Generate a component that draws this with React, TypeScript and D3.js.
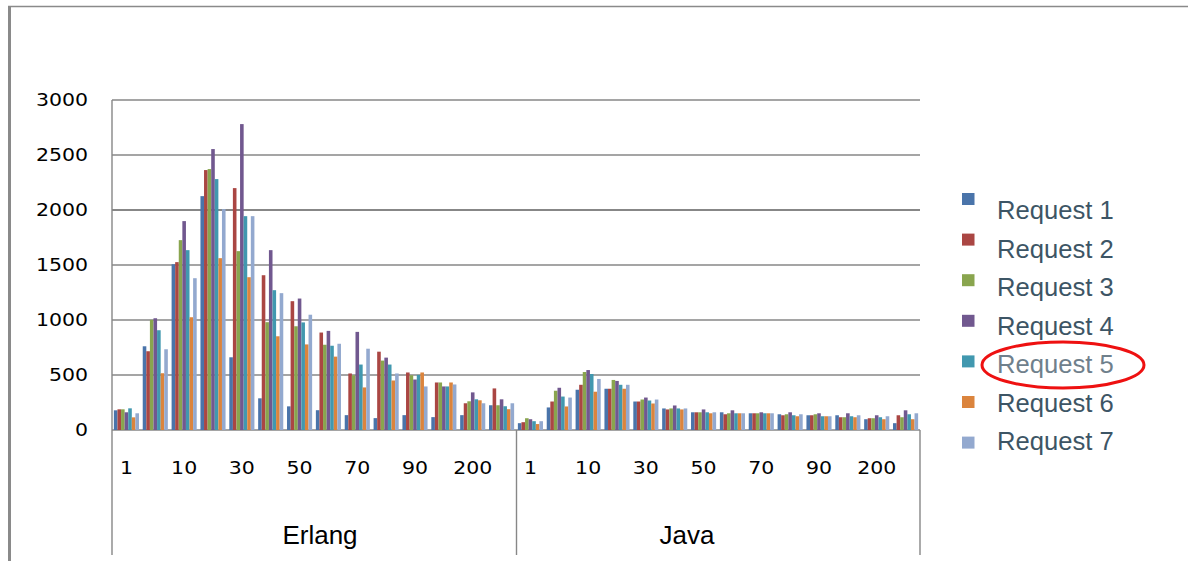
import React from "react";
import * as d3 from "d3";

// Concurrent request timings, grouped by platform and by number of clients
const categories = ["1", "5", "10", "20", "30", "40", "50", "60", "70", "80", "90", "100", "200", "300"];
const labelledCategories = ["1", "10", "30", "50", "70", "90", "200"];
const platforms = ["Erlang", "Java"];
const seriesNames = ["Request 1", "Request 2", "Request 3", "Request 4", "Request 5", "Request 6", "Request 7"];
const seriesColors = ["#4A74AA", "#AA4643", "#89A54E", "#71588F", "#4198AF", "#DB843D", "#93A9CF"];
const yTicks = [0, 500, 1000, 1500, 2000, 2500, 3000];

const erlangRequest1 = [179, 761, 1507, 2126, 661, 288, 215, 180, 135, 108, 135, 117, 135, 225];
const erlangRequest2 = [188, 716, 1526, 2363, 2199, 1407, 1171, 886, 514, 712, 523, 432, 243, 378];
const erlangRequest3 = [188, 1001, 1726, 2372, 1626, 980, 943, 775, 498, 631, 498, 432, 261, 225];
const erlangRequest4 = [161, 1016, 1899, 2554, 2781, 1635, 1195, 901, 892, 658, 459, 396, 342, 279];
const erlangRequest5 = [197, 907, 1635, 2281, 1944, 1271, 978, 766, 595, 595, 501, 396, 279, 216];
const erlangRequest6 = [115, 516, 1025, 1562, 1389, 852, 778, 667, 387, 450, 523, 432, 270, 189];
const erlangRequest7 = [152, 734, 1380, 2008, 1944, 1244, 1048, 784, 739, 514, 396, 414, 243, 243];

const javaRequest1 = [62, 205, 366, 375, 259, 196, 161, 161, 152, 143, 134, 134, 98, 62];
const javaRequest2 = [71, 259, 411, 375, 259, 187, 161, 143, 152, 134, 134, 116, 107, 134];
const javaRequest3 = [107, 357, 527, 455, 277, 196, 161, 152, 152, 143, 143, 116, 107, 116];
const javaRequest4 = [98, 384, 545, 446, 295, 223, 187, 179, 161, 161, 152, 152, 134, 179];
const javaRequest5 = [80, 304, 509, 411, 268, 196, 161, 152, 152, 134, 125, 125, 116, 143];
const javaRequest6 = [54, 214, 348, 375, 241, 187, 152, 152, 152, 125, 125, 116, 98, 98];
const javaRequest7 = [80, 295, 464, 411, 277, 196, 161, 152, 152, 143, 125, 134, 125, 152];

const erlangSeries = [erlangRequest1, erlangRequest2, erlangRequest3, erlangRequest4, erlangRequest5, erlangRequest6, erlangRequest7];
const javaSeries = [javaRequest1, javaRequest2, javaRequest3, javaRequest4, javaRequest5, javaRequest6, javaRequest7];
const platformSeries = [erlangSeries, javaSeries];

const W = 1188;
const H = 561;
const plot = { left: 112, right: 920, top: 100, bottom: 430 };
const gridColor = "#878787";
const tickFont = "'DejaVu Sans', sans-serif";
const labelFont = "'Liberation Sans', Arial, sans-serif";

export default function App() {
  const keys = platforms.flatMap((p) => categories.map((c) => `${p}|${c}`));
  const x = d3.scaleBand<string>().domain(keys).range([plot.left, plot.right]).paddingInner(0.13).paddingOuter(0.065);
  const inner = d3.scaleBand<string>().domain(seriesNames).range([0, x.bandwidth()]);
  const y = d3.scaleLinear().domain([0, 3000]).range([plot.bottom, plot.top]);

  const platformEdges = [plot.left, (plot.left + plot.right) / 2 + 0.5, plot.right];
  const platformLabelX = [320, 687];

  return (
    <svg width={W} height={H} style={{ position: "absolute", left: 0, top: 0, background: "#fff" }}>
      {/* page frame */}
      <line x1={9.5} y1={6} x2={9.5} y2={H} stroke="#8a8a8a" strokeWidth={3} />
      <line x1={8} y1={6.5} x2={W} y2={6.5} stroke="#8a8a8a" strokeWidth={1.5} />

      {/* horizontal gridlines */}
      {yTicks.map((t) => (
        <line key={t} x1={plot.left} x2={plot.right} y1={y(t)} y2={y(t)} stroke={gridColor} strokeWidth={t === 2000 ? 2.2 : 1.4} />
      ))}
      <line x1={plot.left} x2={plot.left} y1={plot.top} y2={plot.bottom} stroke={gridColor} strokeWidth={1.4} />

      {/* y tick labels */}
      {yTicks.map((t) => (
        <g key={`yl${t}`} transform={`translate(88,${y(t)}) scale(1.17,1)`}>
          <text x={0} y={0} dy="0.36em" textAnchor="end" fontFamily={tickFont} fontSize={17.5} fill="#000">
            {t}
          </text>
        </g>
      ))}

      {/* bars */}
      {platforms.map((p, pi) =>
        categories.map((c, ci) =>
          seriesNames.map((s, si) => {
            const v = platformSeries[pi][si][ci];
            const bx = (x(`${p}|${c}`) as number) + (inner(s) as number);
            return (
              <rect
                key={`${p}-${c}-${s}`}
                x={bx}
                y={y(v)}
                width={inner.bandwidth()}
                height={plot.bottom - y(v)}
                fill={seriesColors[si]}
              />
            );
          })
        )
      )}

      {/* category axis: platform separators and labels */}
      {platformEdges.map((ex, i) => (
        <line key={`sep${i}`} x1={ex} x2={ex} y1={plot.bottom} y2={555} stroke={gridColor} strokeWidth={1.4} />
      ))}
      {platforms.map((p) =>
        categories
          .filter((c) => labelledCategories.includes(c))
          .map((c) => (
            <g key={`xl${p}${c}`} transform={`translate(${(x(`${p}|${c}`) as number) + x.bandwidth() / 2},474) scale(1.17,1)`}>
              <text x={0} y={0} textAnchor="middle" fontFamily={tickFont} fontSize={17.5} fill="#000">
                {c}
              </text>
            </g>
          ))
      )}
      {platforms.map((p, i) => (
        <text key={`pl${p}`} x={platformLabelX[i]} y={544} textAnchor="middle" fontFamily={labelFont} fontSize={26} fill="#000">
          {p}
        </text>
      ))}

      {/* legend */}
      {seriesNames.map((s, i) => (
        <g key={`lg${s}`}>
          <rect x={962} y={193 + i * 40.6} width={12.5} height={12} fill={seriesColors[i]} />
          <text
            x={997}
            y={219 + i * 38.5}
            fontFamily={labelFont}
            fontSize={25.6}
            fill={i === 4 ? "#6f808c" : "#3D5565"}
          >
            {s}
          </text>
        </g>
      ))}
      <ellipse cx={1063} cy={365} rx={81} ry={23} fill="none" stroke="#EE1111" strokeWidth={3} />
    </svg>
  );
}
